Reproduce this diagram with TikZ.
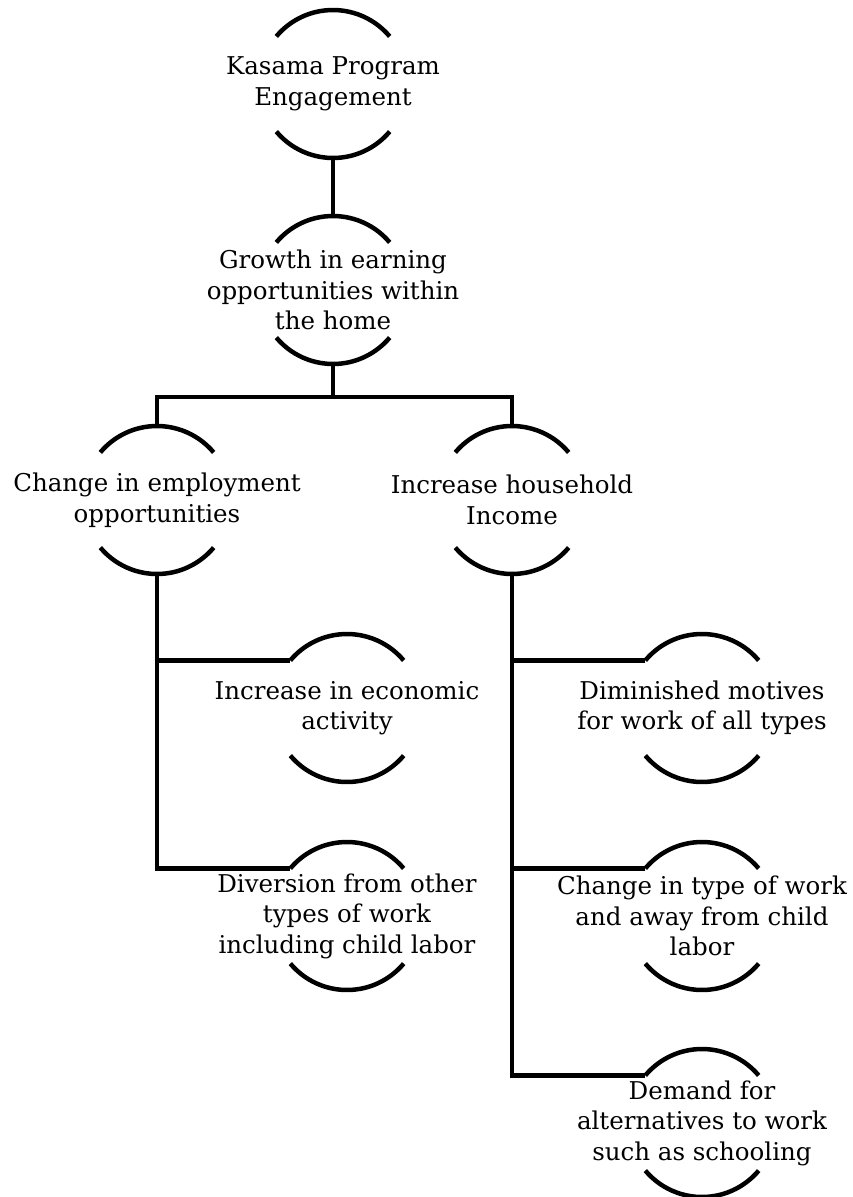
\documentclass[tikz,border=0pt]{standalone}
\usepackage{fontspec}
\setmainfont{DejaVu Serif}
\usepackage{tikz}
\tikzset{
    every node/.style={align=center, inner sep=0pt,
    	font=\fontsize{24.5}{30.5}\selectfont}
}
\tikzset{
    every path/.append style={line width=4.5pt}
}

\begin{document}
\begin{tikzpicture}[x=1pt,y=1pt]
  \useasboundingbox (0,0) rectangle (852,-1197);
  \node (kasama) at (333,-84) {Kasama Program\\Engagement};
  \node (growth) at (333,-290) {Growth in earning\\opportunities within\\the home};
  \node (employ) at (157,-500) {Change in employment\\opportunities};
  \node (income) at (512,-500) {Increase household\\Income};
  \node (econ) at (347,-708) {Increase in economic\\activity};
  \node (divert) at (347,-916) {Diversion from other\\types of work\\including child labor};
  \node (motive) at (702,-708) {Diminished motives\\for work of all types};
  \node (worktype) at (702,-916) {Change in type of work\\and away from child\\labor};
  \node (demand) at (702,-1123) {Demand for\\alternatives to work\\such as schooling};

  \foreach \n in {kasama,growth,employ,income,econ,divert,motive,worktype,demand}{
    \draw ([shift={(40:74pt)}]\n.center) arc[start angle=40, end angle=140, radius=74pt];
    \draw ([shift={(220:74pt)}]\n.center) arc[start angle=220, end angle=320, radius=74pt];
    \coordinate (\n-n) at ([yshift=74pt]\n.center);
    \coordinate (\n-s) at ([yshift=-74pt]\n.center);
    \coordinate (\n-w) at ([shift={(140:74pt)}]\n.center);
  }

  \draw (kasama-s) -- (growth-n);
  \draw (growth-s) -- ++(0,-33) coordinate (bus);
  \draw (employ-n) |- (bus) -| (income-n);
  \draw (employ-s) |- (divert-w);
  \draw (econ-w) -- (econ-w -| employ-s);
  \draw (income-s) |- (demand-w);
  \draw (motive-w) -- (motive-w -| income-s);
  \draw (worktype-w) -- (worktype-w -| income-s);
\end{tikzpicture}
\end{document}
